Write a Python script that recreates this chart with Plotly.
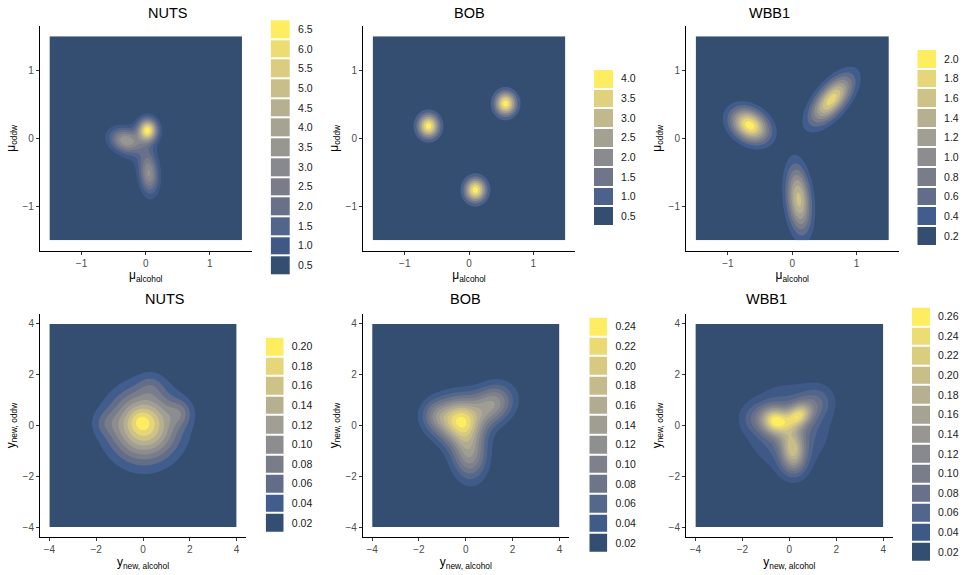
import numpy as np
import plotly.graph_objects as go
from plotly.colors import sample_colorscale, unlabel_rgb

W, H = 969, 575

# ---- data ----------------------------------------------------------------
panel_titles = ["NUTS", "BOB", "WBB1", "NUTS", "BOB", "WBB1"]

# upper bound of each density band shown in the legends
levels_mu_nuts = [0.5, 1.0, 1.5, 2.0, 2.5, 3.0, 3.5, 4.0, 4.5, 5.0, 5.5, 6.0, 6.5]
levels_mu_bob = [0.5, 1.0, 1.5, 2.0, 2.5, 3.0, 3.5, 4.0]
levels_mu_wbb1 = [0.2, 0.4, 0.6, 0.8, 1.0, 1.2, 1.4, 1.6, 1.8, 2.0]
levels_y_nuts = [0.02, 0.04, 0.06, 0.08, 0.10, 0.12, 0.14, 0.16, 0.18, 0.20]
levels_y_bob = [0.02, 0.04, 0.06, 0.08, 0.10, 0.12, 0.14, 0.16, 0.18, 0.20, 0.22, 0.24]
levels_y_wbb1 = [0.02, 0.04, 0.06, 0.08, 0.10, 0.12, 0.14, 0.16, 0.18, 0.20, 0.22, 0.24, 0.26]

# density blobs: (weight, x, y, sd major, sd minor, angle deg)
mu_nuts_blobs = [
    (0.42, 0.03, 0.12, 0.11, 0.10, 90),
    (0.38, -0.32, -0.03, 0.165, 0.115, -15),
    (0.38, 0.05, -0.52, 0.20, 0.10, 95),
    (0.14, -0.10, -0.14, 0.18, 0.18, 0),
]
mu_bob_blobs = [
    (0.333, -0.63, 0.18, 0.122, 0.116, 90),
    (0.333, 0.57, 0.51, 0.122, 0.116, 90),
    (0.333, 0.10, -0.76, 0.122, 0.116, 90),
]
mu_wbb1_blobs = [
    (0.38, -0.66, 0.19, 0.21, 0.15, -30),
    (0.42, 0.61, 0.57, 0.29, 0.135, 48),
    (0.38, 0.10, -0.90, 0.33, 0.125, 96),
]
y_nuts_blobs = [
    (0.97, 0.05, 0.00, 0.97, 0.92, 0),
    (0.015, -0.10, 0.18, 0.35, 0.30, 0),
    (0.03, 1.60, 0.50, 0.35, 0.35, 0),
    (0.02, -1.60, 0.10, 0.35, 0.40, 90),
    (0.02, 0.35, 1.60, 0.40, 0.35, 0),
]
y_bob_blobs = [
    (0.50, -0.25, 0.20, 0.65, 0.60, 0),
    (0.22, 1.15, 0.85, 0.62, 0.50, 25),
    (0.25, 0.15, -1.10, 0.70, 0.50, 95),
    (0.08, -1.30, 0.40, 0.45, 0.45, 0),
]
y_wbb1_blobs = [
    (0.16, -0.60, 0.18, 0.40, 0.35, -20),
    (0.12, 0.40, 0.40, 0.40, 0.30, 30),
    (0.16, 0.15, -0.90, 0.55, 0.35, 100),
    (0.50, -0.05, -0.05, 1.05, 1.00, 0),
    (0.04, -1.45, 0.30, 0.45, 0.40, 0),
    (0.06, 1.20, 0.95, 0.50, 0.45, 20),
    (0.04, 0.10, -1.50, 0.45, 0.40, 90),
]

panels = [
    dict(blobs=mu_nuts_blobs, levels=levels_mu_nuts, lim=1.5, ticks=[-1, 0, 1], kind="mu"),
    dict(blobs=mu_bob_blobs, levels=levels_mu_bob, lim=1.5, ticks=[-1, 0, 1], kind="mu"),
    dict(blobs=mu_wbb1_blobs, levels=levels_mu_wbb1, lim=1.5, ticks=[-1, 0, 1], kind="mu"),
    dict(blobs=y_nuts_blobs, levels=levels_y_nuts, lim=4, ticks=[-4, -2, 0, 2, 4], kind="y"),
    dict(blobs=y_bob_blobs, levels=levels_y_bob, lim=4, ticks=[-4, -2, 0, 2, 4], kind="y"),
    dict(blobs=y_wbb1_blobs, levels=levels_y_wbb1, lim=4, ticks=[-4, -2, 0, 2, 4], kind="y"),
]

# pixel boxes: axes (x0, x1, ytop, ybottom) and legend keys (x0, x1, ytop, ybottom)
axis_px = [
    (39.8, 251.6, 26.1, 250.5), (363.0, 575.0, 26.1, 250.5), (686.0, 898.5, 26.1, 250.5),
    (40.0, 246.0, 313.8, 537.2), (362.8, 568.8, 313.8, 537.2), (686.0, 892.7, 313.8, 537.2),
]
legend_px = [
    (270.7, 290.0, 19.3, 275.3), (594.0, 613.0, 69.0, 226.0), (917.3, 936.0, 49.0, 245.7),
    (265.7, 283.7, 336.7, 532.7), (589.3, 607.3, 316.7, 552.7), (912.0, 930.0, 306.7, 561.7),
]


def px_x(v):
    return v / W


def px_y(v):
    return 1 - v / H


def cividis_alpha(n, alpha=0.8):
    # ggplot cividis fill drawn with alpha over a white background
    out = []
    for c in sample_colorscale("Cividis", [i / (n - 1) for i in range(n)]):
        r, g, b = unlabel_rgb(c)
        out.append("rgb(%d,%d,%d)" % tuple(round(alpha * v + (1 - alpha) * 255) for v in (r, g, b)))
    return out


def density(xg, yg, blobs):
    X, Y = np.meshgrid(xg, yg)
    Z = np.zeros_like(X)
    for w, mx, my, s1, s2, ang in blobs:
        t = np.deg2rad(ang)
        dx, dy = X - mx, Y - my
        u = dx * np.cos(t) + dy * np.sin(t)
        v = -dx * np.sin(t) + dy * np.cos(t)
        Z += w / (2 * np.pi * s1 * s2) * np.exp(-0.5 * ((u / s1) ** 2 + (v / s2) ** 2))
    return Z


fig = go.Figure()
font = "Liberation Sans, Arial, sans-serif"

for i, p in enumerate(panels):
    n = len(p["levels"])
    cols = cividis_alpha(n)
    step = p["levels"][1] - p["levels"][0]
    scale = [[k / (n - 1), c] for k, c in enumerate(cols)]
    g = np.linspace(-p["lim"], p["lim"], 241)
    z = density(g, g, p["blobs"])

    ax = "" if i == 0 else str(i + 1)
    lx = str(i + 7)

    fig.add_trace(go.Contour(
        x=g, y=g, z=z, xaxis="x" + ax, yaxis="y" + ax,
        colorscale=scale, showscale=False,
        contours=dict(start=p["levels"][0], end=p["levels"][-2], size=step,
                      coloring="fill", showlines=False),
        line=dict(width=0), hoverinfo="skip",
    ))

    # legend drawn as a one-column heatmap with white gaps between keys
    fig.add_trace(go.Heatmap(
        z=[[k] for k in range(n)], x=[0], y=list(range(n)),
        xaxis="x" + lx, yaxis="y" + lx,
        colorscale=scale, zmin=0, zmax=n - 1, showscale=False,
        ygap=2, hoverinfo="skip",
    ))

    x0, x1, yt, yb = axis_px[i]
    r = p["lim"] * 1.1
    xlab = "μ<sub>alcohol</sub>" if p["kind"] == "mu" else "y<sub>new, alcohol</sub>"
    ylab = "μ<sub>oddw</sub>" if p["kind"] == "mu" else "y<sub>new, oddw</sub>"
    common = dict(showgrid=False, zeroline=False, showline=True, linecolor="black", linewidth=1,
                  ticks="outside", ticklen=3, tickcolor="#333333", tickwidth=1,
                  tickfont=dict(size=10, color="#4d4d4d", family=font),
                  range=[-r, r], tickvals=p["ticks"],
                  ticktext=[("−%g" % -t) if t < 0 else "%g" % t for t in p["ticks"]])
    fig.layout["xaxis" + ax] = dict(common, domain=[px_x(x0), px_x(x1)], anchor="y" + ax,
                                    title=dict(text=xlab, standoff=2, font=dict(size=12, color="black", family=font)))
    fig.layout["yaxis" + ax] = dict(common, domain=[px_y(yb), px_y(yt)], anchor="x" + ax,
                                    title=dict(text=ylab, standoff=4, font=dict(size=12, color="black", family=font)))

    lx0, lx1, lyt, lyb = legend_px[i]
    fig.layout["xaxis" + lx] = dict(domain=[px_x(lx0), px_x(lx1)], anchor="y" + lx, visible=False,
                                    range=[-0.5, 0.5], fixedrange=True)
    fig.layout["yaxis" + lx] = dict(domain=[px_y(lyb), px_y(lyt)], anchor="x" + lx, side="right",
                                    range=[-0.5, n - 0.5], showgrid=False, zeroline=False, showline=False,
                                    ticks="outside", ticklen=5, tickcolor="rgba(0,0,0,0)",
                                    tickvals=list(range(n)), ticktext=["%.1f" % v if p["kind"] == "mu" else "%.2f" % v
                                                                       for v in p["levels"]],
                                    tickfont=dict(size=10.5, color="#1a1a1a", family=font))

    fig.add_annotation(text=panel_titles[i], xref="paper", yref="paper",
                       x=px_x((x0 + x1) / 2), y=px_y(12.7 if i < 3 else 299.0), yanchor="middle",
                       showarrow=False, font=dict(size=14.5, color="black", family=font))

fig.update_layout(
    width=W, height=H, margin=dict(l=0, r=0, t=0, b=0),
    plot_bgcolor="white", paper_bgcolor="white", showlegend=False,
)

# drop the default page margin so the figure sits at the window's corner
fig.write_html("out.html", config={"displayModeBar": False},
               post_script="document.body.style.margin='0';")
